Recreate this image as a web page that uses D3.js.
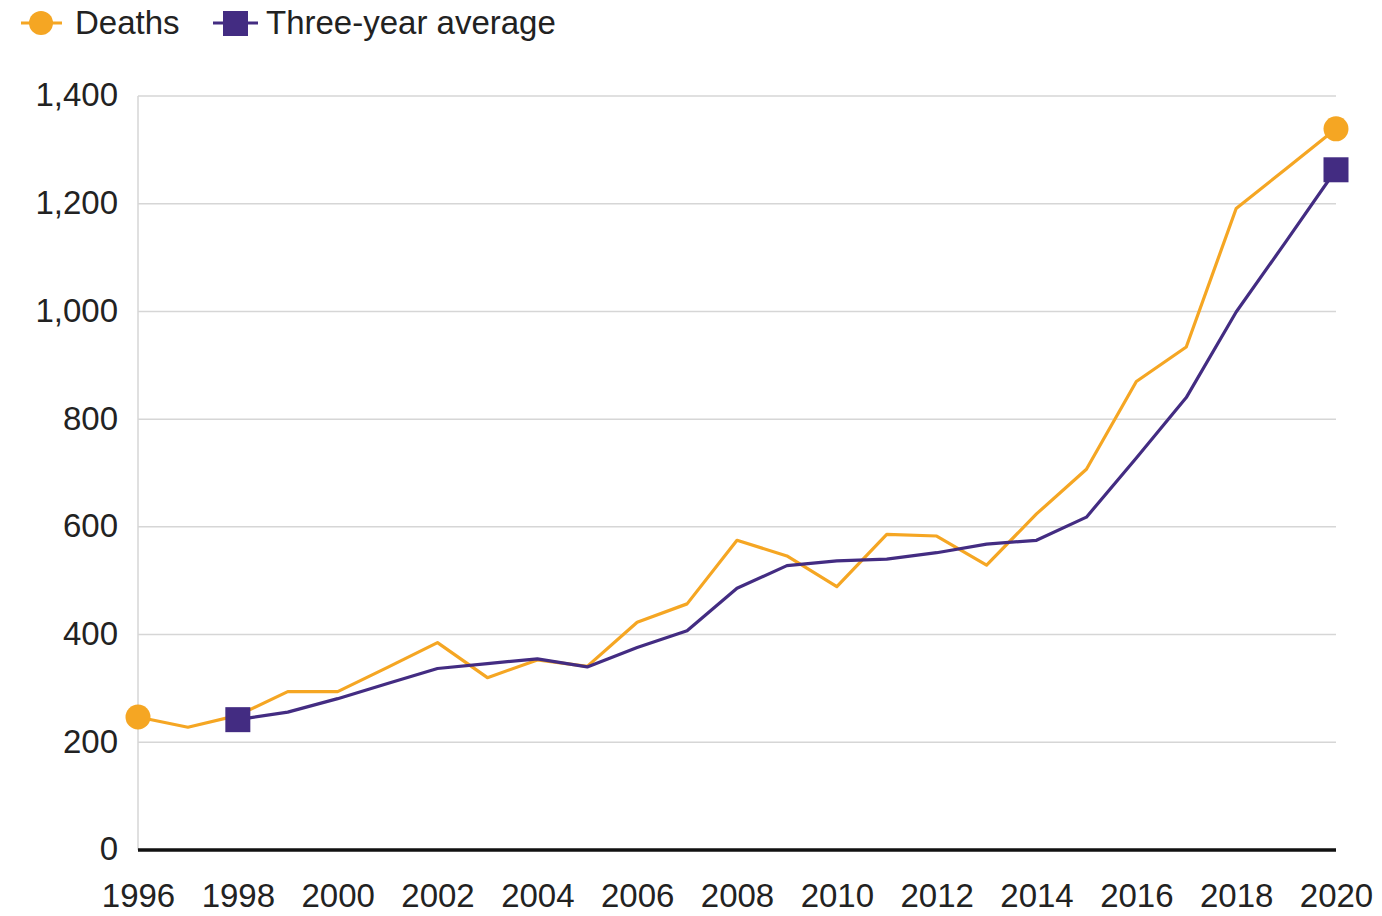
<!DOCTYPE html>
<html>
<head>
<meta charset="utf-8">
<script src="https://cdn.jsdelivr.net/npm/d3@7"></script>
<style>
html,body{margin:0;padding:0;background:#fff;}
svg text{font-family:"Liberation Sans",Arial,Helvetica,sans-serif;fill:#222;}
</style>
</head>
<body>
<svg id="chart" width="1382" height="916"></svg>
<script>
const years = d3.range(1996, 2021);
const deaths = [247, 228, 250, 294, 294, 339, 385, 320, 353, 341, 423, 457, 575, 546, 489, 586, 583, 529, 624, 707, 870, 934, 1191, 1265, 1339];
const average = [null, null, 242, 256, 281, 309, 337, 346, 355, 340, 376, 407, 486, 528, 537, 540, 552, 568, 575, 618, 728, 840, 999, 1130, 1263];
const yTicks = [0, 200, 400, 600, 800, 1000, 1200, 1400];
const xTicks = d3.range(1996, 2021, 2);
const seriesNames = ["Deaths", "Three-year average"];
const colors = {deaths: "#F5A623", avg: "#432C82"};

const svg = d3.select("#chart");
const x = d3.scaleLinear().domain([1996, 2020]).range([138, 1336]);
const y = d3.scaleLinear().domain([0, 1400]).range([850, 96]);
const FS = 33;

// gridlines
svg.append("g").selectAll("line").data(yTicks.filter(d => d > 0)).join("line")
  .attr("x1", x(1996)).attr("x2", x(2020))
  .attr("y1", d => y(d)).attr("y2", d => y(d))
  .attr("stroke", "#d6d6d6").attr("stroke-width", 1.5);

// y axis line
svg.append("line").attr("x1", x(1996)).attr("x2", x(1996))
  .attr("y1", y(1400)).attr("y2", y(0))
  .attr("stroke", "#d6d6d6").attr("stroke-width", 1.5);

// y axis labels
const yAxis = d3.axisLeft(y).tickValues(yTicks).tickSize(0).tickPadding(20)
  .tickFormat(d3.format(","));
const gy = svg.append("g").attr("transform", `translate(${x(1996)},0)`).call(yAxis);
gy.select(".domain").remove();
gy.selectAll("text").attr("font-size", FS).attr("fill", "#222")
  .attr("font-family", '"Liberation Sans",Arial,sans-serif').attr("dy", "0.3em");

// x axis
const xAxis = d3.axisBottom(x).tickValues(xTicks).tickSize(0).tickPadding(42)
  .tickFormat(d3.format("d"));
const gx = svg.append("g").attr("transform", `translate(0,${y(0)})`).call(xAxis);
gx.select(".domain").remove();
gx.selectAll("text").attr("font-size", FS).attr("fill", "#222")
  .attr("font-family", '"Liberation Sans",Arial,sans-serif').attr("dy", "0.45em");
svg.append("line").attr("x1", x(1996)).attr("x2", x(2020))
  .attr("y1", y(0)).attr("y2", y(0))
  .attr("stroke", "#111").attr("stroke-width", 3.5);

// lines
const line = d3.line().defined(d => d[1] != null).x(d => x(d[0])).y(d => y(d[1]));
svg.append("path").datum(years.map((yr, i) => [yr, deaths[i]]))
  .attr("d", line).attr("fill", "none").attr("stroke", colors.deaths)
  .attr("stroke-width", 3.2).attr("stroke-linejoin", "round");
svg.append("path").datum(years.map((yr, i) => [yr, average[i]]))
  .attr("d", line).attr("fill", "none").attr("stroke", colors.avg)
  .attr("stroke-width", 3.2).attr("stroke-linejoin", "round");

// end markers
const firstD = 0, lastD = deaths.length - 1;
[firstD, lastD].forEach(i => {
  svg.append("circle").attr("cx", x(years[i])).attr("cy", y(deaths[i]))
    .attr("r", 12.5).attr("fill", colors.deaths);
});
const firstA = average.findIndex(v => v != null), lastA = average.length - 1;
[firstA, lastA].forEach(i => {
  svg.append("rect").attr("x", x(years[i]) - 12.5).attr("y", y(average[i]) - 12.5)
    .attr("width", 25).attr("height", 25).attr("fill", colors.avg);
});

// legend
const lg = svg.append("g");
lg.append("line").attr("x1", 21).attr("x2", 62).attr("y1", 23).attr("y2", 23)
  .attr("stroke", colors.deaths).attr("stroke-width", 3);
lg.append("circle").attr("cx", 41).attr("cy", 23).attr("r", 12).attr("fill", colors.deaths);
lg.append("text").attr("x", 75).attr("y", 34).attr("font-size", FS).text(seriesNames[0]);
lg.append("line").attr("x1", 213).attr("x2", 258).attr("y1", 23).attr("y2", 23)
  .attr("stroke", colors.avg).attr("stroke-width", 3);
lg.append("rect").attr("x", 223).attr("y", 11).attr("width", 25).attr("height", 25).attr("fill", colors.avg);
lg.append("text").attr("x", 266).attr("y", 34).attr("font-size", FS).text(seriesNames[1]);
</script>
</body>
</html>
